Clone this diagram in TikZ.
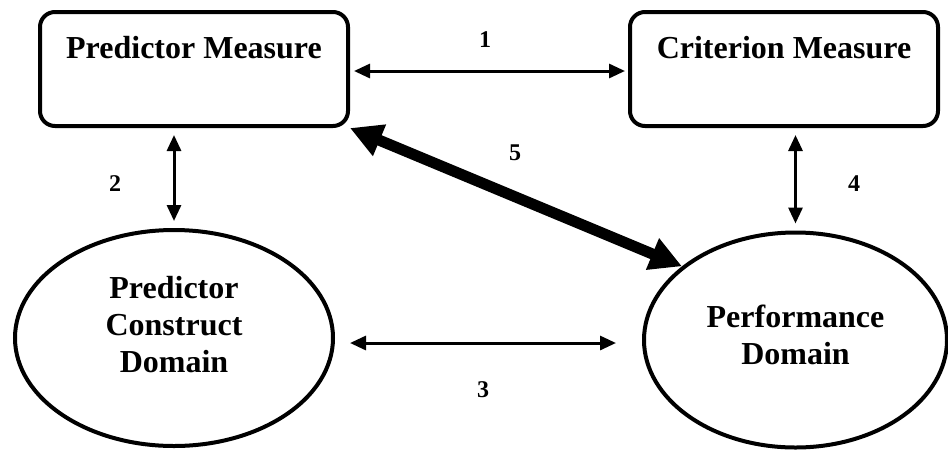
\documentclass[tikz,border=0pt]{standalone}
\usepackage{fontspec}
\setmainfont{Liberation Serif}
\usetikzlibrary{arrows.meta,shapes.geometric,calc}
\begin{document}
\begin{tikzpicture}[x=1pt,y=-1pt,
  box/.style={draw,line width=4pt,rounded corners=15pt,minimum width=308pt,minimum height=114pt,inner sep=0pt},
  dom/.style={draw,ellipse,line width=4pt,inner sep=0pt},
  big/.style={font=\fontsize{32}{37}\selectfont\bfseries,align=center,inner sep=0pt},
  num/.style={font=\fontsize{24}{28}\selectfont\bfseries,inner sep=0pt},
  link/.style={line width=3pt,{Triangle[length=16pt,width=14pt]}-{Triangle[length=16pt,width=14pt]}},
  heavy/.style={line width=11pt,{Triangle[length=32pt,width=32pt]}-{Triangle[length=32pt,width=32pt]}}]
\useasboundingbox (0,0) rectangle (948,451);
% boxes
\node[box] (pm) at (194,69) {};
\node[box] (cm) at (784,69) {};
\node[big,anchor=base] (pmt) at ($(pm.north)+(0,48)$) {Predictor Measure};
\node[big,anchor=base] (cmt) at ($(cm.north)+(0,48)$) {Criterion Measure};
% ellipses
\node[dom,minimum width=318pt,minimum height=216pt] (pc) at (174,338) {};
\node[dom,minimum width=303pt,minimum height=215pt] (pd) at (795.5,340) {};
\node[big] (pct) at ($(pc.center)+(0,-13)$) {Predictor\\Construct\\Domain};
\node[big] (pdt) at ($(pd.center)+(0,-5)$) {Performance\\Domain};
% connectors
\coordinate (r1) at (0,71);
\coordinate (r3) at (0,343);
\draw[link,shorten <=4pt,shorten >=3pt] (pm.east |- r1) -- (cm.west |- r1);
\draw[link,shorten <=7pt,shorten >=7pt] (pc.north |- pm.south) -- (pc.north);
\draw[link,shorten <=7pt,shorten >=7pt] (pd.north |- cm.south) -- (pd.north);
\draw[link,shorten <=15pt,shorten >=26pt] (pc.east |- r3) -- (pd.west |- r3);
\draw[heavy] (pm.south east) -- (pd.147);
% labels
\node[num] (n1) at (485,40) {1};
\node[num] (n2) at (115,184) {2};
\node[num] (n3) at (483,390) {3};
\node[num] (n4) at (854,184) {4};
\node[num] (n5) at (515,153) {5};
\end{tikzpicture}
\end{document}
